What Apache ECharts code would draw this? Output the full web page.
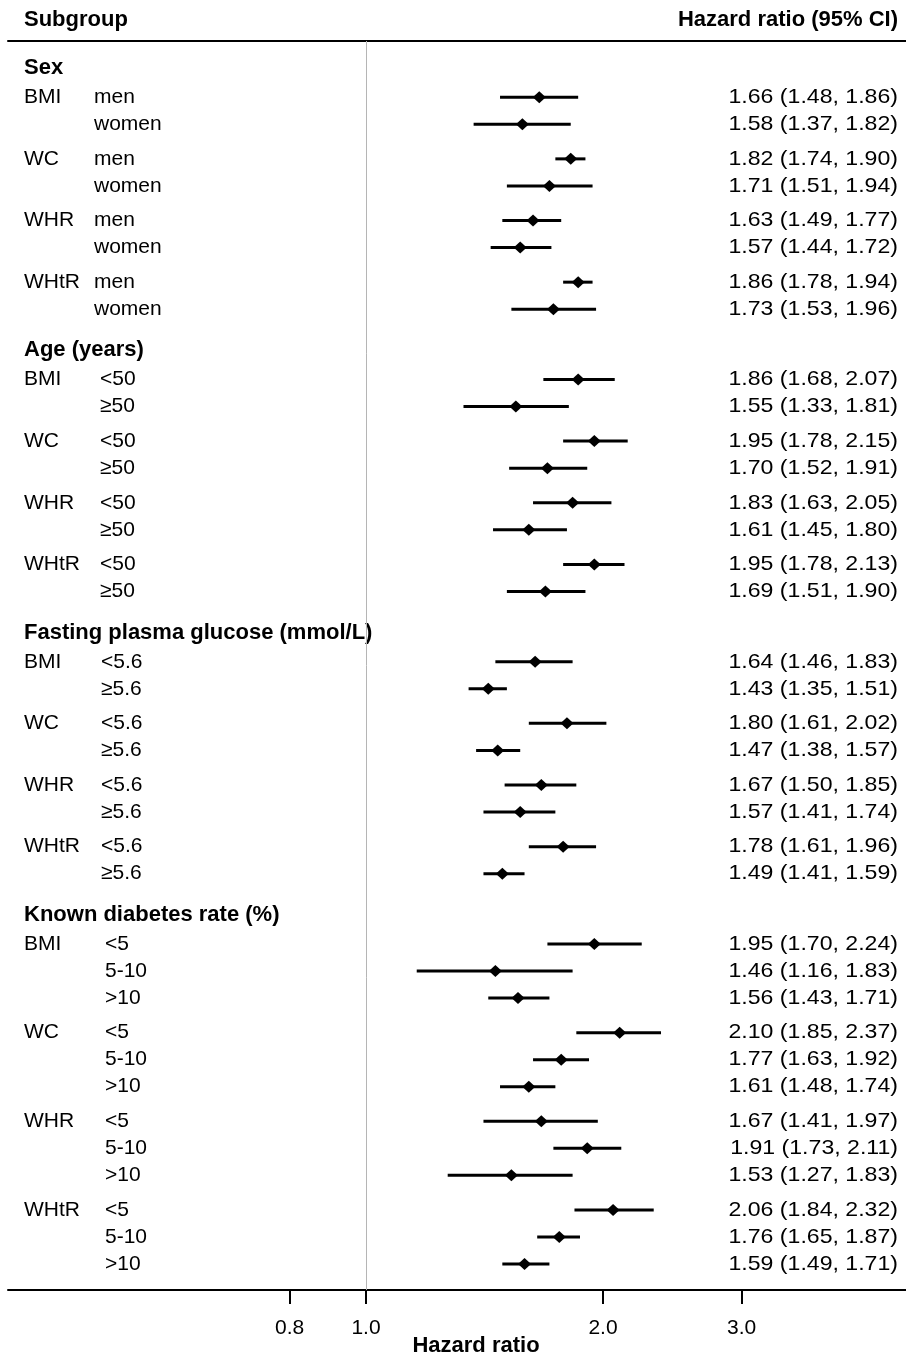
<!DOCTYPE html>
<html>
<head>
<meta charset="utf-8">
<script src="https://cdn.jsdelivr.net/npm/echarts@6/dist/echarts.min.js"></script>
<style>
html, body { margin: 0; padding: 0; background: #fff; }
#main { width: 906px; height: 1357px; }
</style>
</head>
<body>
<div id="main"></div>
<script>
var sections = ['Sex', 'Age (years)', 'Fasting plasma glucose (mmol/L)', 'Known diabetes rate (%)'];
var measures = ['BMI', 'WC', 'WHR', 'WHtR'];
var levels = [
    ['men', 'women'],
    ['<50', '≥50'],
    ['<5.6', '≥5.6'],
    ['<5', '5-10', '>10']
];

// hazard ratio and 95% CI, in row order
var hr = [1.66, 1.58, 1.82, 1.71, 1.63, 1.57, 1.86, 1.73,
    1.86, 1.55, 1.95, 1.70, 1.83, 1.61, 1.95, 1.69,
    1.64, 1.43, 1.80, 1.47, 1.67, 1.57, 1.78, 1.49,
    1.95, 1.46, 1.56, 2.10, 1.77, 1.61, 1.67, 1.91, 1.53, 2.06, 1.76, 1.59];
var lower = [1.48, 1.37, 1.74, 1.51, 1.49, 1.44, 1.78, 1.53,
    1.68, 1.33, 1.78, 1.52, 1.63, 1.45, 1.78, 1.51,
    1.46, 1.35, 1.61, 1.38, 1.50, 1.41, 1.61, 1.41,
    1.70, 1.16, 1.43, 1.85, 1.63, 1.48, 1.41, 1.73, 1.27, 1.84, 1.65, 1.49];
var upper = [1.86, 1.82, 1.90, 1.94, 1.77, 1.72, 1.94, 1.96,
    2.07, 1.81, 2.15, 1.91, 2.05, 1.80, 2.13, 1.90,
    1.83, 1.51, 2.02, 1.57, 1.85, 1.74, 1.96, 1.59,
    2.24, 1.83, 1.71, 2.37, 1.92, 1.74, 1.97, 2.11, 1.83, 2.32, 1.87, 1.71];

var xTicks = [0.8, 1.0, 2.0, 3.0];

// layout (row units, not data)
var subX = [94, 100, 101, 105];
var FONT = '"Liberation Sans", Arial, sans-serif';

// build rows: each row gets a vertical slot from the table structure
var rows = [];
var heads = [];
var pos = 0;
var k = 0;
for (var s = 0; s < sections.length; s++) {
    if (s > 0) pos += 1.52;
    heads.push([1, pos]);
    pos += 1.08;
    for (var m = 0; m < measures.length; m++) {
        if (m > 0) pos += 1.28;
        for (var l = 0; l < levels[s].length; l++) {
            if (l > 0) pos += 1;
            rows.push({
                value: [hr[k], lower[k], upper[k], pos],
                group: l == 0 ? measures[m] : '',
                sub: levels[s][l],
                sec: s
            });
            k++;
        }
    }
}
var yMin = -1.0;
var yMax = pos + 0.96;

function renderRow(params, api) {
    var row = rows[params.dataIndex];
    var y = api.value(3);
    var p = api.coord([api.value(0), y]);
    var a = api.coord([api.value(1), y]);
    var b = api.coord([api.value(2), y]);
    var txt = hr[params.dataIndex].toFixed(2) + ' (' + lower[params.dataIndex].toFixed(2) + ', ' + upper[params.dataIndex].toFixed(2) + ')';
    var children = [{
            type: 'line',
            shape: { x1: a[0], y1: a[1], x2: b[0], y2: b[1] },
            style: { stroke: '#000', lineWidth: 3 }
        },
        {
            type: 'polygon',
            shape: { points: [[p[0] - 6.5, p[1]], [p[0], p[1] - 6], [p[0] + 6.5, p[1]], [p[0], p[1] + 6]] },
            style: { fill: '#000' }
        },
        {
            type: 'text',
            x: 898,
            y: p[1],
            scaleX: 1.1,
            style: { text: txt, align: 'right', verticalAlign: 'middle', font: '21px ' + FONT, fill: '#000' }
        },
        {
            type: 'text',
            x: subX[row.sec],
            y: p[1],
            style: { text: row.sub, align: 'left', verticalAlign: 'middle', font: '21px ' + FONT, fill: '#000' }
        }
    ];
    if (row.group) {
        children.push({
            type: 'text',
            x: 24,
            y: p[1],
            style: { text: row.group, align: 'left', verticalAlign: 'middle', font: '21px ' + FONT, fill: '#000' }
        });
    }
    return { type: 'group', children: children };
}

function renderHead(params, api) {
    var p = api.coord([api.value(0), api.value(1)]);
    return {
        type: 'text',
        x: 24,
        y: p[1],
        style: { text: sections[params.dataIndex], align: 'left', verticalAlign: 'middle', font: 'bold 22px ' + FONT, fill: '#000' }
    };
}

var myChart = echarts.init(document.getElementById('main'));

var option = {
    animation: false,
    grid: { left: 8, right: 0, top: 41, bottom: 67, containLabel: false, outerBoundsMode: 'none' },
    xAxis: [{
            type: 'log',
            min: 0.351,
            max: 4.852,
            position: 'bottom',
            axisLine: { onZero: false, lineStyle: { color: '#000', width: 2 } },
            axisTick: { show: true, customValues: xTicks, length: 14, lineStyle: { color: '#000', width: 2 } },
            axisLabel: {
                customValues: xTicks,
                margin: 28,
                fontFamily: FONT,
                fontSize: 21,
                color: '#000',
                formatter: function(v) { return Number(v).toFixed(1); }
            },
            splitLine: { show: false }
        },
        {
            type: 'log',
            min: 0.351,
            max: 4.852,
            position: 'top',
            axisLine: { onZero: false, lineStyle: { color: '#000', width: 2 } },
            axisTick: { show: false },
            axisLabel: { show: false },
            splitLine: { show: false }
        }
    ],
    yAxis: { type: 'value', inverse: true, min: yMin, max: yMax, show: false },
    graphic: [{
            type: 'text',
            x: 24,
            y: 20,
            style: { text: 'Subgroup', font: 'bold 22px ' + FONT, fill: '#000', align: 'left', verticalAlign: 'middle' }
        },
        {
            type: 'text',
            x: 898,
            y: 20,
            style: { text: 'Hazard ratio (95% CI)', font: 'bold 22px ' + FONT, fill: '#000', align: 'right', verticalAlign: 'middle' }
        },
        {
            type: 'text',
            x: 476,
            y: 1346,
            style: { text: 'Hazard ratio', font: 'bold 22px ' + FONT, fill: '#000', align: 'center', verticalAlign: 'middle' }
        }
    ],
    series: [{
            type: 'custom',
            name: 'rows',
            renderItem: renderRow,
            encode: { x: [0, 1, 2], y: 3 },
            data: rows,
            clip: false,
            markLine: {
                silent: true,
                symbol: 'none',
                label: { show: false },
                lineStyle: { color: '#b5b5b5', width: 1, type: 'solid' },
                data: [{ xAxis: 1 }]
            }
        },
        {
            type: 'custom',
            name: 'heads',
            renderItem: renderHead,
            encode: { x: 0, y: 1 },
            data: heads,
            clip: false
        }
    ]
};
myChart.setOption(option);
</script>
</body>
</html>
